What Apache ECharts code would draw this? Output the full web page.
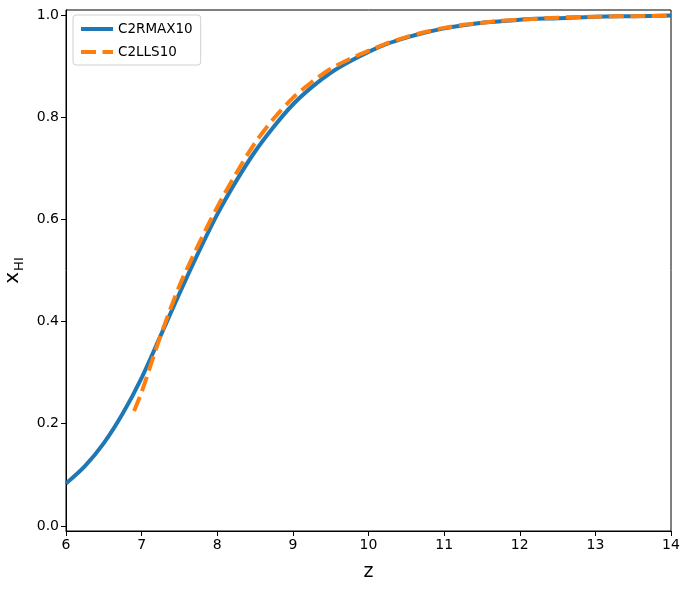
<!DOCTYPE html>
<html>
<head>
<meta charset="utf-8">
<script src="https://cdn.jsdelivr.net/npm/echarts@6/dist/echarts.min.js"></script>
<style>html,body{margin:0;padding:0;background:#fff}#c{width:689px;height:589px}</style>
</head>
<body>
<div id="c"></div>
<script>
// Data
const zBlue = [6.00,6.25,6.50,6.75,7.00,7.25,7.50,7.75,8.00,8.25,8.50,8.75,9.00,9.25,9.50,9.75,10.00,10.25,10.50,10.75,11.00,11.25,11.50,11.75,12.00,12.50,13.00,13.50,14.00];
const xBlue = [0.083,0.117,0.162,0.220,0.290,0.372,0.455,0.535,0.610,0.675,0.733,0.782,0.825,0.859,0.887,0.909,0.928,0.944,0.956,0.966,0.974,0.980,0.985,0.988,0.991,0.994,0.997,0.998,0.999];
const zOrange = [6.90,7.00,7.25,7.50,7.75,8.00,8.25,8.50,8.75,9.00,9.25,9.50,9.75,10.00,10.25,10.50,10.75,11.00,11.25,11.50,11.75,12.00,12.50,13.00,13.50,14.00];
const xOrange = [0.225,0.262,0.372,0.470,0.550,0.624,0.690,0.750,0.798,0.838,0.869,0.895,0.914,0.930,0.945,0.957,0.967,0.975,0.981,0.985,0.989,0.991,0.995,0.997,0.998,0.999];
const xTicks = [6,7,8,9,10,11,12,13,14];
const yTicks = [0.0,0.2,0.4,0.6,0.8,1.0];
const names = ['C2RMAX10','C2LLS10'];

const FONT = 'DejaVu Sans';
const chart = echarts.init(document.getElementById('c'), null, {renderer:'canvas'});
chart.setOption({
  animation:false,
  backgroundColor:'#fff',
  grid:{left:66,right:18,top:10,bottom:58,containLabel:false,outerBoundsMode:'none',show:true,borderColor:'#000',borderWidth:1,backgroundColor:'transparent'},
  legend:{
    left:73, top:15, orient:'vertical',
    data:names,
    itemWidth:32, itemHeight:10, itemGap:9,
    padding:[7,8,6,6],
    borderColor:'#d0d0d0', borderWidth:1, borderRadius:3,
    backgroundColor:'rgba(255,255,255,0.8)',
    itemStyle:{opacity:0},
    lineStyle:{width:'inherit',type:'inherit'},
    textStyle:{fontFamily:FONT,fontSize:13.5,color:'#000'}
  },
  xAxis:{
    type:'value', min:6, max:14, interval:1,
    name:'z', nameLocation:'middle', nameGap:32,
    nameTextStyle:{fontFamily:FONT,fontSize:19,color:'#000'},
    axisLine:{show:true,onZero:false,lineStyle:{color:'#000',width:1}},
    axisTick:{show:true,length:5,lineStyle:{color:'#000'},customValues:xTicks},
    axisLabel:{fontFamily:FONT,fontSize:14,color:'#000',margin:7,customValues:xTicks,formatter:v=>String(v)},
    splitLine:{show:false}
  },
  yAxis:{
    type:'value', min:-0.01, max:1.01,
    name:'{x|x}{s|HI}', nameLocation:'middle', nameGap:37, nameRotate:90,
    nameTextStyle:{fontFamily:FONT,color:'#000',
      rich:{x:{fontFamily:FONT,fontSize:20,color:'#000',lineHeight:26,verticalAlign:'middle'},
            s:{fontFamily:FONT,fontSize:13,color:'#000',verticalAlign:'bottom',lineHeight:26,padding:[10,0,0,1]}}},
    axisLine:{show:true,onZero:false,lineStyle:{color:'#000',width:1}},
    axisTick:{show:true,length:5,lineStyle:{color:'#000'},customValues:yTicks},
    axisLabel:{fontFamily:FONT,fontSize:14,color:'#000',margin:7,customValues:yTicks,formatter:v=>v.toFixed(1)},
    splitLine:{show:false}
  },
  series:[
    {name:names[0],type:'line',smooth:0.3,symbol:'none',clip:true,
     data:zBlue.map((z,i)=>[z,xBlue[i]]),
     lineStyle:{color:'#1f77b4',width:4},itemStyle:{color:'#1f77b4'},z:2},
    {name:names[1],type:'line',smooth:0.3,symbol:'none',clip:true,
     data:zOrange.map((z,i)=>[z,xOrange[i]]),
     lineStyle:{color:'#ff7f0e',width:4,type:[15,6.5],cap:'butt'},itemStyle:{color:'#ff7f0e'},z:3}
  ]
});
</script>
</body>
</html>
